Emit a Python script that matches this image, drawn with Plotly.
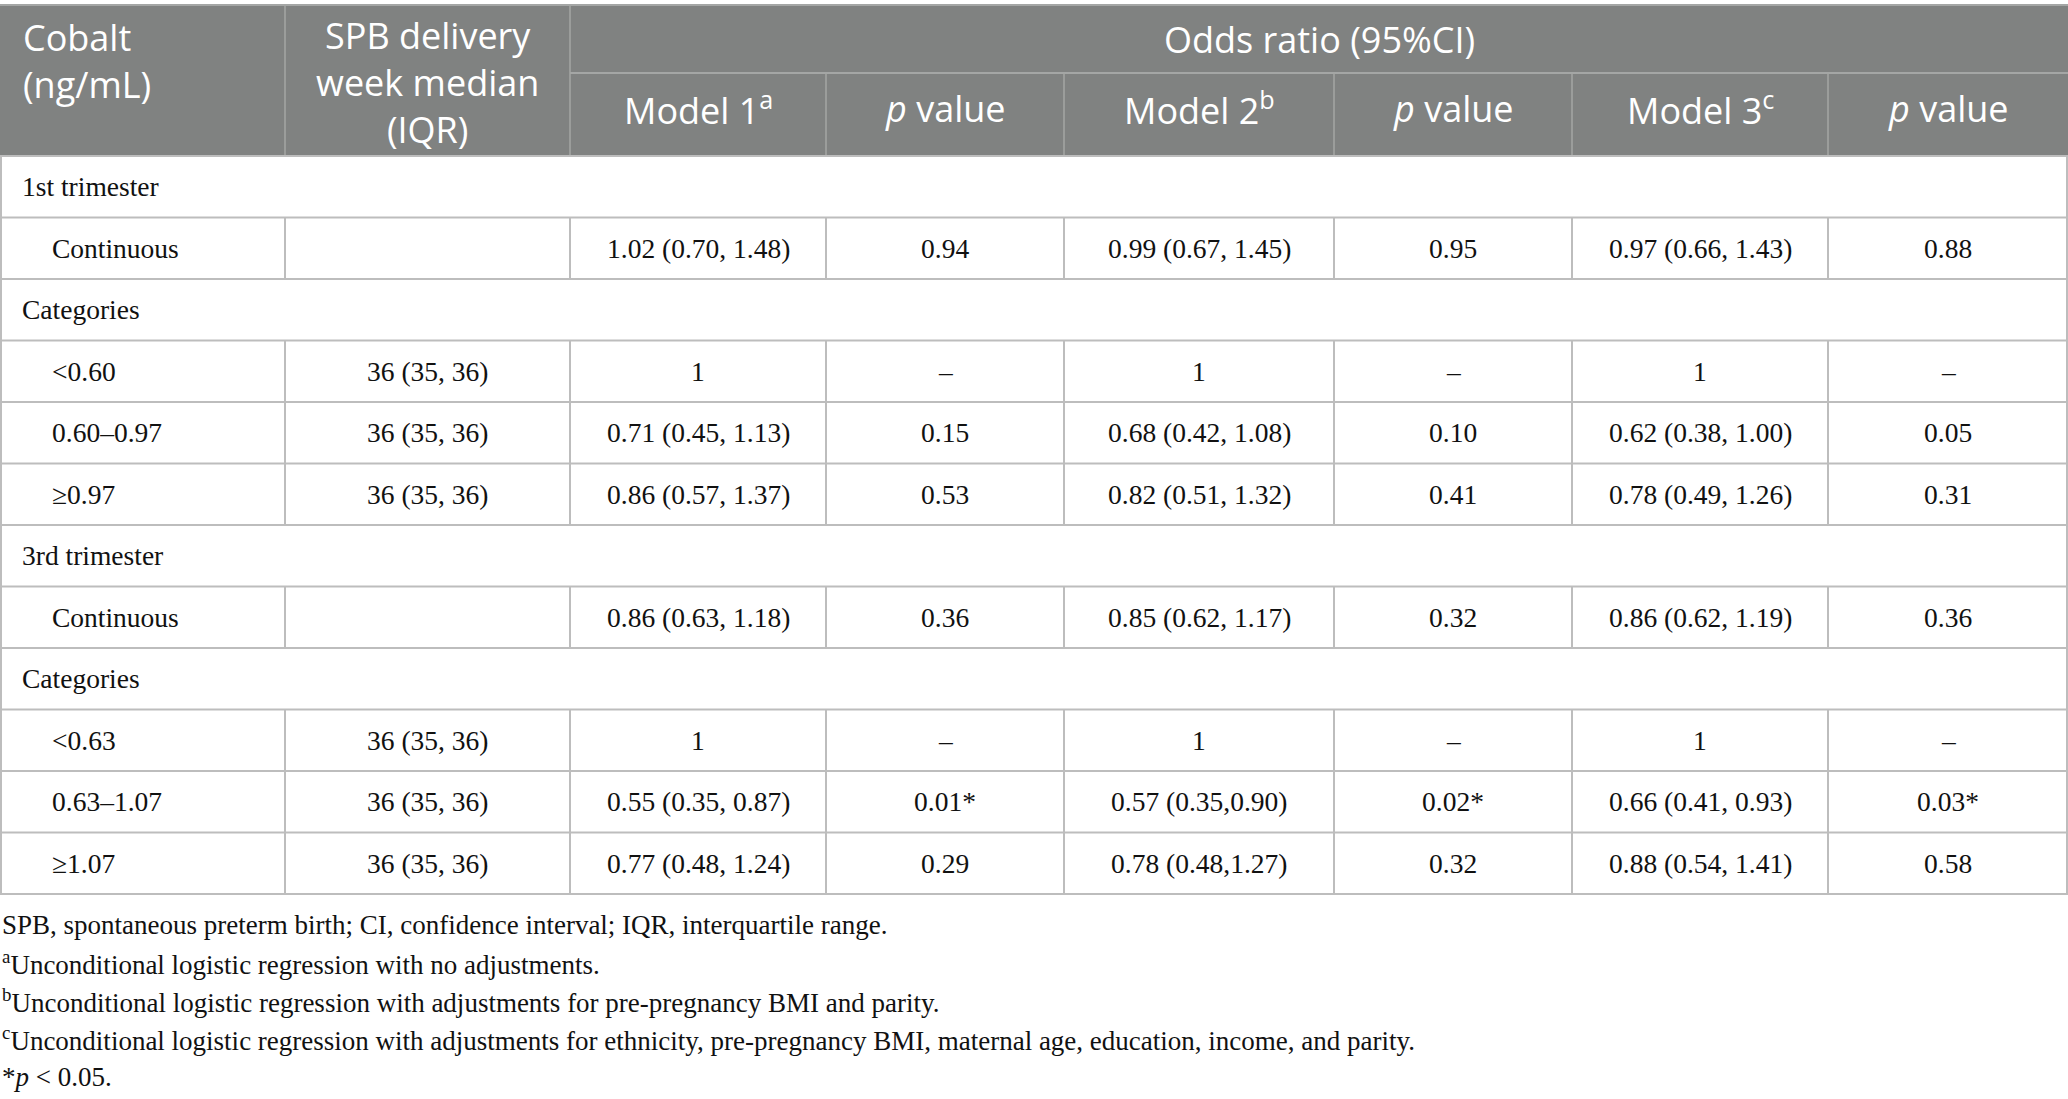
import plotly.graph_objects as go

# table content
header_models = ["Model 1<sup>a</sup>", "Model 2<sup>b</sup>", "Model 3<sup>c</sup>"]
p_header = "<i>p</i> value"

row_labels = ["1st trimester", "Continuous", "Categories", "<0.60", "0.60–0.97", "≥0.97",
              "3rd trimester", "Continuous", "Categories", "<0.63", "0.63–1.07", "≥1.07"]
is_section = [True, False, True, False, False, False, True, False, True, False, False, False]

spb_week = ["", "", "", "36 (35, 36)", "36 (35, 36)", "36 (35, 36)",
            "", "", "", "36 (35, 36)", "36 (35, 36)", "36 (35, 36)"]
model1 = ["", "1.02 (0.70, 1.48)", "", "1", "0.71 (0.45, 1.13)", "0.86 (0.57, 1.37)",
          "", "0.86 (0.63, 1.18)", "", "1", "0.55 (0.35, 0.87)", "0.77 (0.48, 1.24)"]
p1 = ["", "0.94", "", "–", "0.15", "0.53", "", "0.36", "", "–", "0.01*", "0.29"]
model2 = ["", "0.99 (0.67, 1.45)", "", "1", "0.68 (0.42, 1.08)", "0.82 (0.51, 1.32)",
          "", "0.85 (0.62, 1.17)", "", "1", "0.57 (0.35,0.90)", "0.78 (0.48,1.27)"]
p2 = ["", "0.95", "", "–", "0.10", "0.41", "", "0.32", "", "–", "0.02*", "0.32"]
model3 = ["", "0.97 (0.66, 1.43)", "", "1", "0.62 (0.38, 1.00)", "0.78 (0.49, 1.26)",
          "", "0.86 (0.62, 1.19)", "", "1", "0.66 (0.41, 0.93)", "0.88 (0.54, 1.41)"]
p3 = ["", "0.88", "", "–", "0.05", "0.31", "", "0.36", "", "–", "0.03*", "0.58"]

footnotes = [
    "SPB, spontaneous preterm birth; CI, confidence interval; IQR, interquartile range.",
    "<sup>a</sup>Unconditional logistic regression with no adjustments.",
    "<sup>b</sup>Unconditional logistic regression with adjustments for pre-pregnancy BMI and parity.",
    "<sup>c</sup>Unconditional logistic regression with adjustments for ethnicity, pre-pregnancy BMI, maternal age, education, income, and parity.",
    "*<i>p</i> < 0.05.",
]

# layout of the grid (pixels)
W, H = 2068, 1099
col_edges = [0, 285, 570, 826, 1064, 1334, 1572, 1828, 2068]
head_top, head_mid, head_bot = 5, 73, 156
row_h = 61.5

HEAD_BG = "#808281"
HEAD_LINE = "#a4a6a5"
BODY_LINE = "#bdbdbd"
HEAD_FONT = dict(family="Open Sans", size=36, color="white")
BODY_FONT = dict(family="Liberation Serif", size=27.5, color="#111111")
NOTE_FONT = dict(family="Liberation Serif", size=27, color="#111111")

fig = go.Figure()
shapes = []
ann = []

# header block
shapes.append(dict(type="rect", x0=0, x1=W, y0=head_top, y1=head_bot,
                   fillcolor=HEAD_BG, line=dict(width=0), layer="below"))
shapes.append(dict(type="line", x0=0, x1=W, y0=head_top, y1=head_top,
                   line=dict(color=HEAD_LINE, width=2)))
shapes.append(dict(type="line", x0=col_edges[2], x1=W, y0=head_mid, y1=head_mid,
                   line=dict(color=HEAD_LINE, width=2)))
for i, xe in enumerate(col_edges[1:-1], start=1):
    y0 = head_top if i <= 2 else head_mid
    shapes.append(dict(type="line", x0=xe, x1=xe, y0=y0, y1=head_bot,
                       line=dict(color=HEAD_LINE, width=1.5)))

def cx(c):
    return (col_edges[c] + col_edges[c + 1]) / 2

ann.append(dict(x=21, y=61, text="Cobalt<br>(ng/mL)", xanchor="left", align="left",
                font=HEAD_FONT))
ann.append(dict(x=cx(1), y=82, text="SPB delivery<br>week median<br>(IQR)", font=HEAD_FONT))
ann.append(dict(x=(col_edges[2] + W) / 2, y=(head_top + head_mid) / 2,
                text="Odds ratio (95%CI)", font=HEAD_FONT))
sub_heads = [header_models[0], p_header, header_models[1], p_header, header_models[2], p_header]
for k, txt in enumerate(sub_heads):
    ann.append(dict(x=cx(k + 2), y=(head_mid + head_bot) / 2 - 6, text=txt, font=HEAD_FONT))

# body
n = len(row_labels)
body_cols = [spb_week, model1, p1, model2, p2, model3, p3]
for r in range(n + 1):
    yy = head_bot + r * row_h
    shapes.append(dict(type="line", x0=0, x1=W, y0=yy, y1=yy,
                       line=dict(color=BODY_LINE, width=2)))
bottom = head_bot + n * row_h
for xe in [1, W - 1]:
    shapes.append(dict(type="line", x0=xe, x1=xe, y0=head_bot, y1=bottom,
                       line=dict(color=BODY_LINE, width=2)))

for r in range(n):
    y0 = head_bot + r * row_h
    ym = y0 + row_h / 2
    if is_section[r]:
        ann.append(dict(x=20, y=ym, text=row_labels[r], xanchor="left", font=BODY_FONT))
        continue
    for xe in col_edges[1:-1]:
        shapes.append(dict(type="line", x0=xe, x1=xe, y0=y0, y1=y0 + row_h,
                           line=dict(color=BODY_LINE, width=2)))
    ann.append(dict(x=50, y=ym, text=row_labels[r].replace("<", "&lt;"),
                    xanchor="left", font=BODY_FONT))
    for c, col in enumerate(body_cols, start=1):
        if col[r]:
            ann.append(dict(x=cx(c), y=ym, text=col[r], font=BODY_FONT))

# footnotes
for k, txt in enumerate(footnotes):
    ann.append(dict(x=0, y=925 + k * 38, text=txt, xanchor="left", font=NOTE_FONT))

for a in ann:
    a.update(xref="x", yref="y", showarrow=False, yanchor="middle")
    a.setdefault("xanchor", "center")

fig.update_layout(
    width=W, height=H,
    margin=dict(l=0, r=0, t=0, b=0),
    paper_bgcolor="white", plot_bgcolor="white",
    xaxis=dict(range=[0, W], visible=False, fixedrange=True),
    yaxis=dict(range=[H, 0], visible=False, fixedrange=True),
    shapes=shapes, annotations=ann, showlegend=False,
)

fig.write_html("out.html", config={"displayModeBar": False},
               post_script="document.body.style.margin='0';")
